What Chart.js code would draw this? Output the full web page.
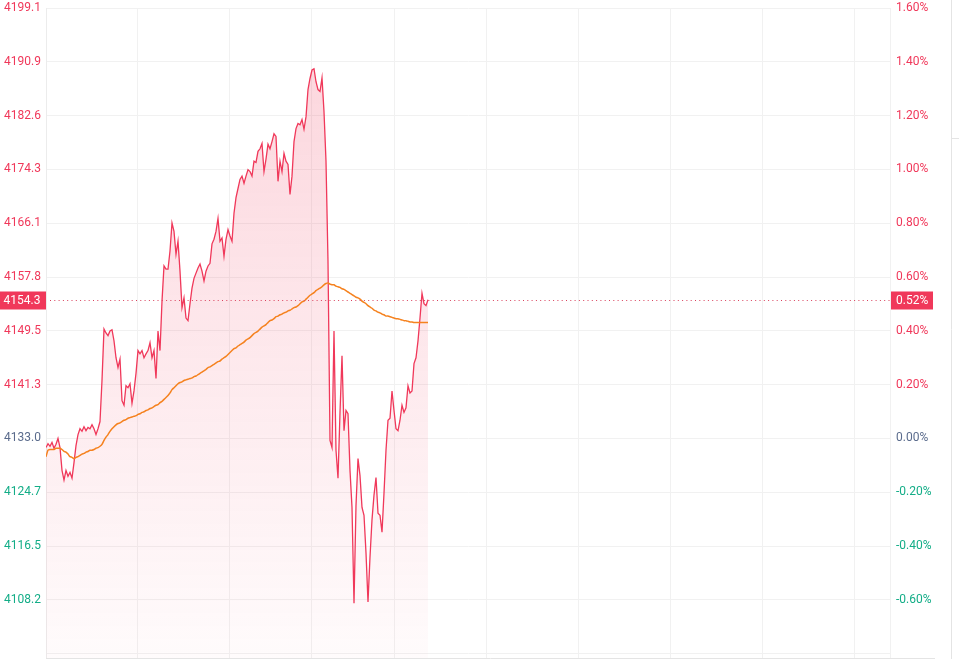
<!DOCTYPE html>
<html><head><meta charset="utf-8">
<script src="https://cdn.jsdelivr.net/npm/chart.js@4/dist/chart.umd.min.js"></script>
<style>html,body{margin:0;padding:0;background:#fff;overflow:hidden}#wrap{position:relative;width:959px;height:659px}</style>
</head><body><div id="wrap"><canvas id="c" width="959" height="659"></canvas></div>
<script>
const prevClose = 4133.0;
const pctTicks = [1.6, 1.4, 1.2, 1.0, 0.8, 0.6, 0.4, 0.2, 0.0, -0.2, -0.4, -0.6, -0.8];
const pctRange = [-0.816, 1.6];
const sessionLength = 422;
const gridTimes = [0, 45.5, 91.5, 132.7, 174, 220.2, 266.2, 312, 358.2, 404.2, 422];

const price = [
4131.6,4132.2,4131.8,4132.4,4131.5,4132.1,4133.0,4131.6,4128.1,4126.6,
4128.1,4127.2,4127.8,4126.9,4129.3,4131.9,4133.6,4134.5,4134.1,4134.8,
4134.2,4134.7,4134.5,4135.1,4134.5,4133.6,4134.5,4135.6,4141.9,4149.8,
4149.2,4148.8,4149.5,4149.7,4148.0,4145.4,4143.9,4145.2,4138.8,4138.1,
4141.1,4140.8,4141.4,4138.4,4140.3,4143.0,4146.5,4146.0,4146.5,4145.4,
4146.0,4146.5,4147.7,4145.4,4146.5,4142.2,4149.5,4146.5,4154.1,4159.5,
4159.0,4159.0,4161.8,4166.1,4164.8,4161.3,4163.3,4158.7,4153.1,4154.6,
4151.5,4151.1,4153.7,4156.1,4157.6,4158.4,4159.2,4159.8,4158.7,4157.2,
4158.7,4159.5,4159.9,4162.9,4163.6,4164.8,4166.8,4163.3,4163.8,4161.0,
4163.6,4165.1,4164.1,4163.3,4167.6,4170.0,4171.4,4172.8,4173.3,4172.2,
4173.3,4174.3,4174.0,4173.3,4175.6,4175.4,4177.1,4177.5,4178.3,4174.0,
4175.9,4178.2,4177.5,4178.6,4179.8,4179.4,4172.5,4175.6,4174.0,4176.8,
4175.6,4175.1,4170.5,4173.3,4178.6,4180.6,4181.4,4181.2,4182.0,4180.5,
4182.4,4186.6,4188.3,4189.6,4189.8,4187.8,4186.6,4186.3,4188.4,4183.2,
4175.6,4160.2,4132.7,4131.6,4149.5,4131.2,4126.9,4137.0,4145.7,4134.2,
4137.3,4136.8,4128.1,4122.4,4107.7,4122.7,4129.9,4127.3,4122.4,4121.2,
4115.4,4107.9,4114.8,4120.5,4124.3,4127.0,4121.5,4121.2,4118.6,4124.6,
4131.2,4135.8,4136.1,4140.3,4137.3,4134.5,4134.2,4135.8,4138.1,4137.0,
4137.7,4141.1,4140.0,4140.3,4144.5,4145.4,4148.0,4151.5,4155.3,4153.7,
4153.4,4154.3
];

const avgPrice = [
4130.2,4131.2,4131.3,4131.3,4131.3,4131.5,4131.5,4131.5,4131.3,4131.0,
4130.9,4130.6,4130.2,4130.1,4129.9,4130.1,4130.2,4130.4,4130.6,4130.7,
4130.9,4131.0,4131.2,4131.2,4131.3,4131.5,4131.6,4131.8,4132.1,4132.7,
4133.2,4133.6,4134.1,4134.5,4134.8,4135.1,4135.3,4135.4,4135.6,4135.8,
4135.9,4136.1,4136.2,4136.3,4136.4,4136.5,4136.7,4136.8,4137.0,4137.1,
4137.3,4137.4,4137.6,4137.7,4137.9,4138.1,4138.2,4138.5,4138.7,4139.0,
4139.3,4139.6,4140.0,4140.5,4140.8,4141.1,4141.4,4141.6,4141.7,4141.9,
4142.0,4142.1,4142.2,4142.3,4142.5,4142.6,4142.8,4143.0,4143.2,4143.4,
4143.6,4143.9,4144.0,4144.2,4144.4,4144.6,4144.8,4144.9,4145.2,4145.4,
4145.6,4145.9,4146.2,4146.5,4146.8,4146.9,4147.2,4147.4,4147.6,4147.8,
4148.1,4148.3,4148.5,4148.8,4149.1,4149.3,4149.5,4149.8,4150.1,4150.3,
4150.5,4150.8,4151.1,4151.2,4151.4,4151.7,4151.8,4152.0,4152.1,4152.3,
4152.4,4152.6,4152.7,4152.9,4153.1,4153.2,4153.4,4153.7,4154.0,4154.1,
4154.4,4154.7,4155.0,4155.2,4155.4,4155.7,4155.9,4156.1,4156.3,4156.6,
4156.8,4156.9,4156.7,4156.6,4156.6,4156.4,4156.3,4156.2,4156.0,4155.9,
4155.7,4155.5,4155.3,4155.1,4154.9,4154.7,4154.6,4154.4,4154.1,4153.9,
4153.7,4153.4,4153.2,4153.0,4152.7,4152.6,4152.4,4152.3,4152.1,4152.0,
4151.8,4151.8,4151.7,4151.6,4151.5,4151.4,4151.4,4151.3,4151.2,4151.1,
4151.1,4151.0,4150.9,4150.9,4150.8,4150.8,4150.8,4150.8,4150.8,4150.8,
4150.8,4150.8
];

const RED = '#f0385a', GREEN = '#13ad87', FLAT = '#5a6b8c', ORANGE = '#f5821f';
const FONT = {family: 'Roboto, "Noto Sans", sans-serif', size: 12};
function toPrice(p){ return prevClose * (1 + p / 100); }
function colorFor(v){ const d = v - prevClose; return Math.abs(d) < 0.05 ? FLAT : (d > 0 ? RED : GREEN); }

const lastPrice = price[price.length - 1];
const lastPct = (lastPrice - prevClose) / prevClose * 100;

function noPad(s){ s.paddingTop = 0; s.paddingBottom = 0; }

const overlay = {
  id: 'overlay',
  afterDatasetsDraw(chart){
    const {ctx, chartArea: a, scales} = chart;
    const y = Math.round(scales.y.getPixelForValue(lastPrice)) + 0.5;
    ctx.save();
    ctx.strokeStyle = '#d9405c';
    ctx.lineWidth = 1;
    ctx.setLineDash([1, 3.3]);
    ctx.beginPath(); ctx.moveTo(a.left + 4, y); ctx.lineTo(a.right, y); ctx.stroke();
    ctx.setLineDash([]);
    ctx.restore();
  },
  afterDraw(chart){
    const {ctx, chartArea: a, scales} = chart;
    const y = Math.round(scales.y.getPixelForValue(lastPrice)) + 0.5;
    ctx.save();
    ctx.strokeStyle = '#e4e4e4'; ctx.lineWidth = 1;
    ctx.beginPath(); ctx.moveTo(a.left, a.bottom + 0.5); ctx.lineTo(935, a.bottom + 0.5); ctx.stroke();
    ctx.beginPath(); ctx.moveTo(951.5, 0); ctx.lineTo(951.5, 659); ctx.stroke();
    ctx.beginPath(); ctx.moveTo(951, 138.5); ctx.lineTo(959, 138.5); ctx.stroke();
    ctx.fillStyle = RED;
    ctx.fillRect(0, y - 9, a.left, 18);
    ctx.fillRect(a.right + 1, y - 9, 42, 18);
    ctx.fillStyle = '#ffffff';
    ctx.font = '12px Roboto, "Noto Sans", sans-serif';
    ctx.textBaseline = 'middle';
    ctx.textAlign = 'right';
    ctx.fillText(lastPrice.toFixed(1), a.left - 5.5, y + 0.5);
    ctx.textAlign = 'left';
    ctx.fillText(lastPct.toFixed(2) + '%', a.right + 6, y + 0.5);
    ctx.restore();
  }
};

new Chart(document.getElementById('c'), {
  type: 'line',
  data: {
    datasets: [
      {
        label: '价格',
        data: price.map((v, i) => ({x: i, y: v})),
        borderColor: RED,
        borderWidth: 1.3,
        pointRadius: 0,
        tension: 0,
        fill: 'start',
        order: 1,
        backgroundColor(ctx){
          const a = ctx.chart.chartArea;
          if (!a) return 'rgba(240,56,90,0.1)';
          const g = ctx.chart.ctx.createLinearGradient(0, a.top, 0, a.bottom);
          g.addColorStop(0, 'rgba(240,56,90,0.22)');
          g.addColorStop(1, 'rgba(240,56,90,0.02)');
          return g;
        }
      },
      {
        label: '均价',
        data: avgPrice.map((v, i) => ({x: i, y: v})),
        borderColor: ORANGE,
        borderWidth: 1.5,
        pointRadius: 0,
        tension: 0.2,
        fill: false,
        order: 0
      }
    ]
  },
  options: {
    responsive: false,
    animation: false,
    devicePixelRatio: 1,
    layout: {padding: {top: 8, bottom: 1, left: 0, right: 0}},
    plugins: {legend: {display: false}, tooltip: {enabled: false}},
    scales: {
      x: {
        type: 'linear', min: 0, max: sessionLength,
        afterBuildTicks(s){ s.ticks = gridTimes.map(v => ({value: v})); },
        afterFit(s){ s.height = 0; s.paddingLeft = 0; s.paddingRight = 0; },
        ticks: {display: false},
        grid: {color: '#f1f1f1', drawTicks: false},
        border: {display: false}
      },
      y: {
        type: 'linear', position: 'left',
        min: toPrice(pctRange[0]), max: toPrice(pctRange[1]),
        afterBuildTicks(s){ s.ticks = pctTicks.map(p => ({value: toPrice(p)})); },
        afterFit(s){ s.width = 46; noPad(s); },
        ticks: {
          font: FONT, padding: 5,
          color: c => colorFor(c.tick.value),
          callback: (v, i) => pctTicks[i] <= pctRange[0] + 0.05 ? '' : v.toFixed(1)
        },
        grid: {color: '#f1f1f1', drawTicks: false},
        border: {display: true, color: '#ececec'}
      },
      y1: {
        type: 'linear', position: 'right',
        min: toPrice(pctRange[0]), max: toPrice(pctRange[1]),
        afterBuildTicks(s){ s.ticks = pctTicks.map(p => ({value: toPrice(p)})); },
        afterFit(s){ s.width = 69; noPad(s); },
        ticks: {
          font: FONT, padding: 6,
          color: c => colorFor(c.tick.value),
          callback: (v, i) => pctTicks[i] <= pctRange[0] + 0.05 ? '' : pctTicks[i].toFixed(2) + '%'
        },
        grid: {display: false, drawTicks: false},
        border: {display: true, color: '#f1f1f1'}
      }
    }
  },
  plugins: [overlay]
});
</script>
</body></html>
